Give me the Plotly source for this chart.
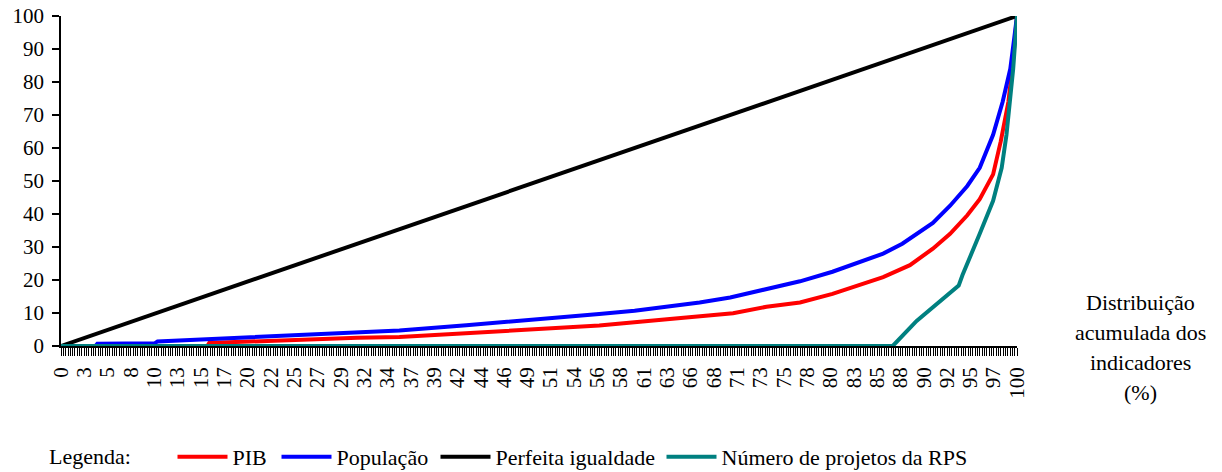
import plotly.graph_objects as go

# ---- data ----
tick_labels = ["0", "3", "5", "8", "10", "13", "15", "17", "20", "22", "25", "27", "29",
               "32", "34", "37", "39", "42", "44", "46", "49", "51", "54", "56", "58", "61",
               "63", "66", "68", "71", "73", "75", "78", "80", "83", "85", "88", "90", "92",
               "95", "97", "100"]
n_units = 410  # number of steps along the horizontal axis (one tick per unit)

pib_x = [0, 15.3, 15.5, 20.4, 24.7, 31.0, 35.4, 42.4, 49.3, 56.3, 63.4, 66.8, 70.3,
         73.8, 77.3, 80.7, 82.5, 86.0, 88.8, 91.2, 93.0, 94.8, 96.1, 97.5, 98.3, 99.1,
         99.5, 99.75, 100]
pib_y = [0, 0, 0.9, 1.4, 2.0, 2.5, 2.7, 3.8, 4.8, 6.2, 8.1, 8.9, 9.9,
         11.9, 13.2, 15.8, 17.5, 20.9, 24.5, 29.5, 34.0, 39.6, 44.5, 52.0, 62.0, 74.0,
         84.0, 93.0, 100]

pop_x = [0, 3.6, 3.8, 9.8, 10.1, 15.3, 20.4, 24.7, 28.9, 32.8, 35.4, 42.4, 49.3, 56.3,
         60.0, 63.4, 66.8, 70.0, 73.8, 77.3, 80.7, 82.5, 84.5, 86.0, 88.0, 89.5, 91.2,
         93.0, 94.8, 96.1, 97.5, 98.5, 99.3, 99.7, 100]
pop_y = [0, 0, 0.7, 0.8, 1.4, 2.1, 2.8, 3.4, 3.9, 4.5, 4.7, 6.3, 7.9, 9.7,
         10.7, 11.8, 13.2, 14.7, 17.1, 19.6, 22.5, 24.4, 26.3, 28.0, 31.0, 33.8, 37.3,
         42.5, 48.5, 54.0, 64.0, 74.0, 84.0, 93.0, 100]

eq_x = [0, 100]
eq_y = [0, 100]

rps_x = [0, 87.0, 89.5, 91.9, 93.3, 93.9, 94.3, 95.2, 96.1, 97.5, 98.4, 98.9, 99.3,
         99.6, 99.85, 100]
rps_y = [0, 0, 7.6, 13.5, 16.9, 18.3, 21.5, 27.5, 34.0, 44.0, 54.0, 64.0, 74.0,
         84.0, 94.0, 100]

FONT = "Liberation Serif, Times New Roman, serif"

series = [
    ("PIB", pib_x, pib_y, "#FF0000", "legend"),
    ("População", pop_x, pop_y, "#0000FF", "legend2"),
    ("Perfeita igualdade", eq_x, eq_y, "#000000", "legend3"),
    ("Número de projetos da RPS", rps_x, rps_y, "#008080", "legend4"),
]

fig = go.Figure()
for name, xs, ys, col, lg in series:
    fig.add_trace(go.Scatter(x=xs, y=ys, mode="lines", name=name, legend=lg,
                             line=dict(color=col, width=4)))

tick_vals = [100 * 10 * k / n_units for k in range(len(tick_labels))]

W, H = 1222, 472
ITEM_W = 50


def legend_box(text_left_px):
    xpx = text_left_px - 41.5 - (ITEM_W - 30)
    return dict(orientation="h", xref="container", yref="container",
                x=xpx / W, xanchor="left", y=0.0318, yanchor="middle",
                font=dict(family=FONT, size=22, color="black"),
                bgcolor="rgba(0,0,0,0)", itemwidth=ITEM_W)


fig.update_layout(
    width=W, height=H,
    margin=dict(l=61, r=205, t=16, b=126, autoexpand=False),
    paper_bgcolor="white", plot_bgcolor="white",
    font=dict(family=FONT, size=21, color="black"),
    showlegend=True,
    legend=legend_box(234),
    legend2=legend_box(338),
    legend3=legend_box(497),
    legend4=legend_box(723),
    xaxis=dict(range=[0, 100], tickmode="array", tickvals=tick_vals, ticktext=tick_labels,
               tickangle=-90, ticks="outside", ticklen=8, tickwidth=1, tickcolor="black",
               showline=True, linecolor="black", linewidth=1.5, showgrid=False,
               zeroline=False, automargin=False, ticklabelstandoff=3,
               ticklabeloverflow="allow",
               tickfont=dict(family=FONT, size=21),
               minor=dict(tickmode="linear", tick0=0, dtick=100 / n_units, ticks="outside",
                          ticklen=8, tickwidth=1, tickcolor="black", showgrid=False)),
    yaxis=dict(range=[0, 100], dtick=10, ticks="outside", ticklen=7, tickwidth=1.5,
               tickcolor="black", showline=True, linecolor="black", linewidth=1.5,
               showgrid=False, zeroline=False, automargin=False, ticklabelstandoff=4,
               ticklabeloverflow="allow",
               tickfont=dict(family=FONT, size=21)),
)

fig.add_annotation(text="Legenda:", xref="paper", yref="paper", x=-0.0146, y=-0.336,
                   xanchor="left", yanchor="middle", showarrow=False,
                   font=dict(family=FONT, size=22, color="black"))

right_lines = ["Distribuição", "acumulada dos", "indicadores", "(%)"]
right_y = [0.1333, 0.0424, -0.0485, -0.1394]
for txt, yy in zip(right_lines, right_y):
    fig.add_annotation(text=txt, xref="paper", yref="paper", x=1.1287, y=yy,
                       xanchor="center", yanchor="middle", showarrow=False,
                       font=dict(family=FONT, size=22, color="black"))

# remove the browser's default 8px page margin so the figure fills the window exactly
fig.write_html("out.html", config={"displayModeBar": False},
               post_script="document.body.style.margin='0px';"
                           "document.body.style.overflow='hidden';")
